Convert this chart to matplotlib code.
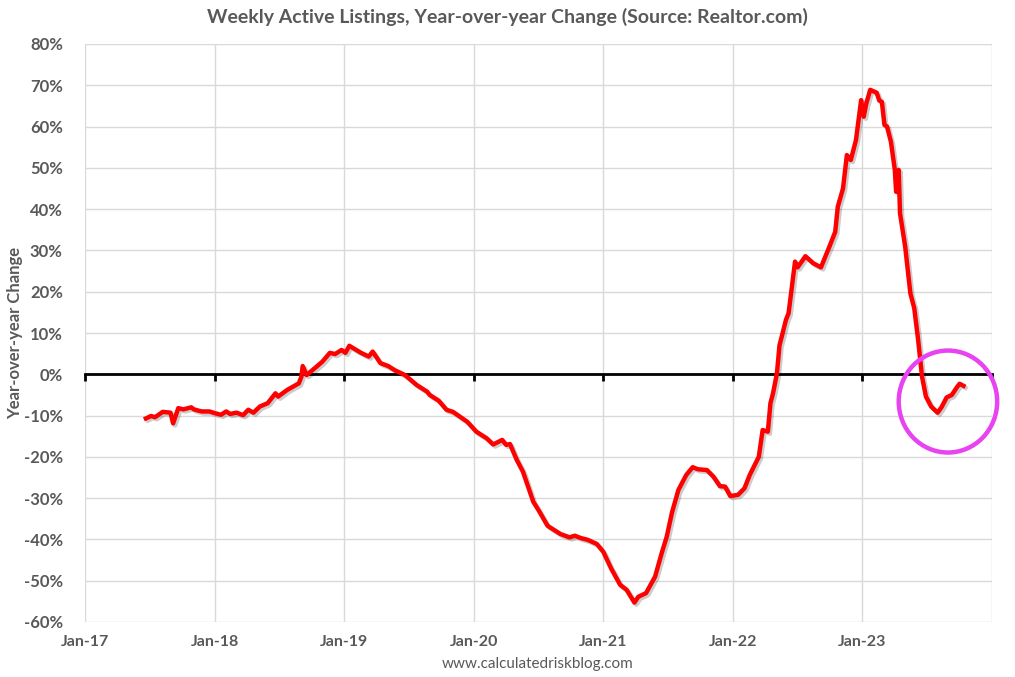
import numpy as np
import matplotlib
matplotlib.use("Agg")
import matplotlib.pyplot as plt
import matplotlib.patheffects as pe
from matplotlib.patches import Ellipse

# weekly active listings, YoY change (%); x in decimal years
week_year = [
    2017.47, 2017.51, 2017.54, 2017.60, 2017.66, 2017.68, 2017.72, 2017.76, 2017.82, 2017.84,
    2017.90, 2017.96, 2018.00, 2018.05, 2018.09, 2018.12, 2018.17, 2018.22, 2018.26, 2018.30,
    2018.35, 2018.41, 2018.47, 2018.49, 2018.56, 2018.65, 2018.67, 2018.68, 2018.71, 2018.77,
    2018.83, 2018.89, 2018.93, 2018.98, 2019.01, 2019.04, 2019.13, 2019.19, 2019.22, 2019.28,
    2019.34, 2019.39, 2019.47, 2019.56, 2019.64, 2019.66, 2019.73, 2019.79, 2019.84, 2019.95,
    2020.02, 2020.10, 2020.15, 2020.22, 2020.25, 2020.28, 2020.33, 2020.38, 2020.46, 2020.50,
    2020.57, 2020.67, 2020.74, 2020.78, 2020.83, 2020.88, 2020.95, 2021.00, 2021.06, 2021.13,
    2021.18, 2021.24, 2021.27, 2021.33, 2021.40, 2021.45, 2021.49, 2021.53, 2021.58, 2021.64,
    2021.69, 2021.73, 2021.80, 2021.85, 2021.90, 2021.94, 2021.98, 2022.04, 2022.09, 2022.13,
    2022.20, 2022.23, 2022.27, 2022.29, 2022.31, 2022.34, 2022.36, 2022.41, 2022.43, 2022.48,
    2022.50, 2022.56, 2022.62, 2022.68, 2022.75, 2022.79, 2022.81, 2022.85, 2022.88, 2022.91,
    2022.95, 2022.99, 2023.01, 2023.03, 2023.06, 2023.11, 2023.13, 2023.15, 2023.17, 2023.19,
    2023.22, 2023.25, 2023.26, 2023.28, 2023.29, 2023.33, 2023.37, 2023.40, 2023.43, 2023.46,
    2023.49, 2023.53, 2023.58, 2023.61, 2023.65, 2023.69, 2023.73, 2023.75, 2023.78,
]
yoy_change = [
    -10.7, -10.1, -10.4, -9.1, -9.3, -11.9, -8.2, -8.5, -8.0, -8.5,
    -9.0, -9.0, -9.4, -9.8, -9.0, -9.6, -9.3, -9.9, -8.6, -9.3,
    -7.8, -7.0, -4.6, -5.4, -3.8, -2.2, -0.6, 2.0, -0.2, 1.4,
    3.0, 5.2, 4.9, 5.9, 5.2, 6.9, 5.2, 4.3, 5.5, 2.7,
    2.0, 1.0, -0.2, -2.6, -4.2, -5.0, -6.4, -8.6, -9.1, -11.5,
    -13.9, -15.5, -17.0, -15.9, -17.1, -16.9, -20.6, -23.6, -30.9, -32.9,
    -36.7, -38.7, -39.5, -39.1, -39.7, -40.1, -41.1, -43.0, -47.0, -51.0,
    -52.2, -55.3, -53.9, -53.0, -49.0, -43.4, -39.3, -33.5, -28.0, -24.4,
    -22.5, -23.0, -23.2, -24.8, -27.1, -27.2, -29.5, -29.2, -27.6, -24.4,
    -20.0, -13.5, -13.9, -7.0, -4.6, 0.2, 7.0, 13.2, 14.8, 27.3,
    25.9, 28.6, 26.9, 25.9, 31.3, 34.5, 40.6, 45.0, 53.1, 51.9,
    56.7, 66.4, 62.4, 65.6, 68.9, 68.2, 66.3, 66.0, 60.4, 60.0,
    56.3, 49.5, 44.2, 49.5, 39.0, 30.9, 19.6, 16.0, 8.3, -0.6,
    -5.4, -7.8, -9.3, -8.0, -5.6, -5.0, -3.1, -2.3, -2.8,
]

tick_years = list(range(2017, 2025))
tick_labels = ["Jan-17", "Jan-18", "Jan-19", "Jan-20", "Jan-21", "Jan-22", "Jan-23", ""]
y_ticks = list(range(-60, 81, 10))

# highlighted area (centre and size in data units)
circle_center = (2023.66, -6.6)
circle_size = (0.76, 24.7)

GREY = "#595959"
plt.rcParams["font.family"] = ["Lato", "DejaVu Sans"]

fig = plt.figure(figsize=(10.15, 6.77), dpi=100)
ax = fig.add_axes([85 / 1015, 1 - 622 / 677, (992 - 85) / 1015, (622 - 44) / 677])

ax.plot(week_year, yoy_change, color="red", lw=3.2, solid_joinstyle="round", zorder=4,
        path_effects=[pe.SimpleLineShadow(offset=(1.5, -1.5), shadow_color="black", alpha=0.2),
                      pe.Normal()])

ax.add_patch(Ellipse(circle_center, circle_size[0], circle_size[1], fill=False,
                     ec="#E843F0", lw=3.2, zorder=5, clip_on=False))

ax.set_xlim(2017, 2024)
ax.set_ylim(-60, 80)
ax.set_yticks(y_ticks)
ax.set_yticklabels([f"{v}%" for v in y_ticks], fontsize=12, fontweight="bold", color=GREY)
ax.set_xticks(tick_years)
ax.grid(True, color="#D9D9D9", lw=1)
ax.set_axisbelow(True)

for s in ["top", "right", "left"]:
    ax.spines[s].set_visible(False)
ax.spines["bottom"].set_position(("data", 0))
ax.spines["bottom"].set_color("black")
ax.spines["bottom"].set_linewidth(2)
ax.spines["bottom"].set_zorder(3)
ax.tick_params(axis="x", direction="out", length=5, width=2, color="black", labelbottom=False)
ax.tick_params(axis="y", length=0, pad=16)

sec = ax.secondary_xaxis("bottom")
sec.set_xticks(tick_years)
sec.set_xticklabels(tick_labels, fontsize=11.5, fontweight="bold", color=GREY)
sec.tick_params(length=0, pad=9)
sec.spines["bottom"].set_visible(False)

fig.text(15 / 1015, 1 - 333 / 677, "Year-over-year Change", rotation=90, ha="center", va="center",
         fontsize=12, fontweight="bold", color=GREY)
fig.text(0.5, 1 - 17 / 677, "Weekly Active Listings, Year-over-year Change (Source: Realtor.com)",
         ha="center", va="center", fontsize=14, fontweight="bold", color=GREY)
fig.text(538 / 1015, 1 - 664 / 677, "www.calculatedriskblog.com", ha="center", va="center",
         fontsize=11, color=GREY)

fig.savefig("out.png", dpi=100)
